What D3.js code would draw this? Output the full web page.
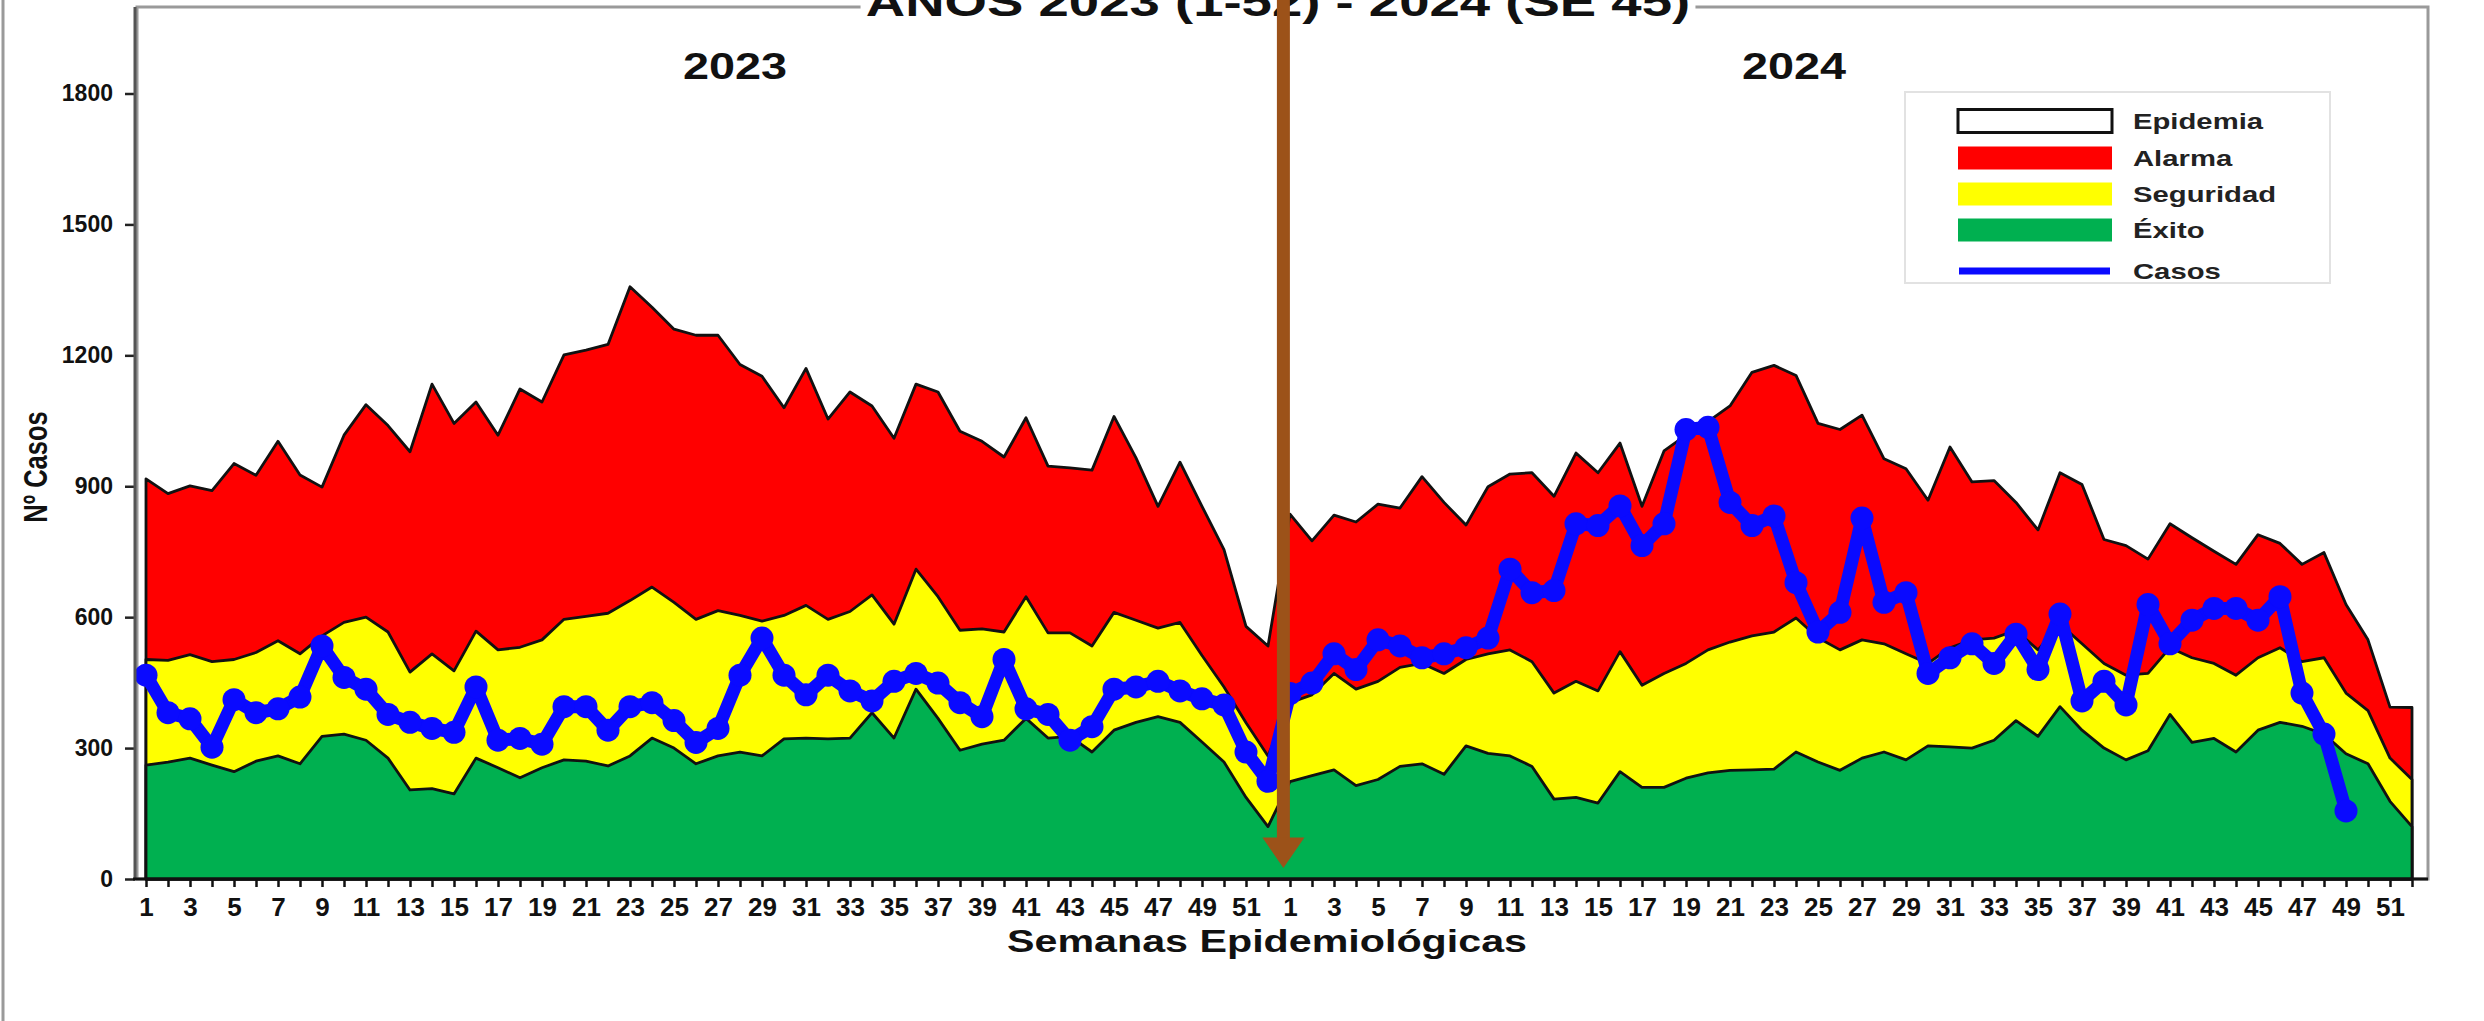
<!DOCTYPE html>
<html>
<head>
<meta charset="utf-8">
<script src="https://cdn.jsdelivr.net/npm/d3@7/dist/d3.min.js"></script>
<style>
  body { margin: 0; background: #fff; }
  text { font-family: "Liberation Sans", Arial, sans-serif; font-weight: bold; }
</style>
</head>
<body>
<div id="chart"></div>
<script>
var width = 2484;
var height = 1021;

// epidemiological weeks
var weeks2023 = d3.range(1, 53);
var weeks2024 = d3.range(1, 53);

// Alarma (upper limit of the red band)
var alarma2023 = [917, 883, 901, 890, 952, 925, 1003, 926, 898, 1017, 1087, 1039, 979, 1134, 1044, 1093, 1017, 1123, 1093, 1201,
  1212, 1225, 1357, 1310, 1260, 1246, 1246, 1179, 1152, 1080, 1170, 1054, 1116, 1084, 1010, 1134, 1116, 1026, 1003, 967,
  1057, 946, 942, 937, 1060, 965, 854, 955, 854, 755, 579, 534];
var alarma2024 = [836, 775, 834, 818, 859, 850, 922, 863, 811, 899, 928, 931, 877, 976, 931, 999, 854, 981, 1017, 1048,
  1084, 1161, 1177, 1154, 1044, 1030, 1063, 963, 940, 868, 990, 910, 913, 863, 800, 931, 904, 778, 764, 733,
  814, 782, 751, 721, 789, 769, 721, 748, 629, 548, 394, 393];

// Seguridad (upper limit of the yellow band)
var seguridad2023 = [503, 501, 514, 498, 503, 519, 546, 516, 557, 588, 600, 566, 474, 516, 477, 568, 525, 531, 548, 595,
  602, 609, 638, 669, 634, 595, 615, 604, 591, 604, 627, 595, 613, 651, 584, 710, 647, 570, 573, 566,
  647, 564, 564, 534, 611, 593, 575, 588, 512, 440, 358, 282];
var seguridad2024 = [404, 422, 471, 435, 453, 485, 494, 471, 503, 516, 525, 498, 426, 453, 431, 521, 444, 471, 494, 525,
  543, 557, 566, 598, 553, 525, 548, 539, 516, 494, 530, 548, 552, 570, 525, 584, 539, 494, 467, 471,
  530, 507, 494, 467, 507, 530, 498, 507, 426, 386, 277, 228];

// Exito (upper limit of the green band)
var exito2023 = [261, 268, 277, 261, 246, 270, 282, 264, 327, 332, 318, 277, 204, 207, 195, 277, 255, 232, 255, 273,
  270, 259, 282, 323, 300, 264, 282, 291, 282, 321, 323, 321, 323, 381, 323, 435, 368, 295, 309, 318,
  368, 323, 327, 291, 341, 359, 372, 359, 314, 268, 187, 120];
var exito2024 = [223, 237, 250, 214, 228, 258, 264, 240, 305, 288, 282, 258, 183, 187, 174, 246, 210, 210, 231, 243,
  249, 250, 252, 291, 268, 249, 277, 291, 273, 305, 303, 300, 318, 363, 327, 395, 341, 300, 273, 294,
  377, 313, 322, 291, 341, 359, 350, 332, 287, 264, 178, 120];

// Casos (2024 up to week 49)
var casos2023 = [467, 381, 367, 302, 411, 381, 390, 417, 534, 462, 435, 377, 359, 345, 336, 440, 318, 322, 309, 395,
  395, 341, 395, 404, 363, 313, 345, 467, 552, 467, 422, 467, 431, 408, 453, 471, 449, 404, 372, 503,
  390, 377, 318, 349, 435, 440, 453, 431, 413, 399, 291, 224];
var casos2024 = [425, 449, 516, 480, 548, 534, 507, 516, 530, 552, 710, 656, 661, 814, 810, 855, 764, 814, 1030, 1035,
  863, 810, 832, 679, 566, 611, 827, 634, 656, 471, 507, 539, 494, 561, 480, 607, 408, 453, 399, 629,
  539, 593, 620, 620, 593, 647, 426, 332, 156];

var yTicks = [0, 300, 600, 900, 1200, 1500, 1800];
var legendLabels = ["Epidemia", "Alarma", "Seguridad", "Éxito", "Casos"];

var colors = {
  alarma: "#ff0000",
  seguridad: "#ffff00",
  exito: "#00b050",
  casos: "#0a0aff",
  arrow: "#9c5219"
};

var weekLabels = weeks2023.concat(weeks2024);
var alarma = alarma2023.concat(alarma2024);
var seguridad = seguridad2023.concat(seguridad2024);
var exito = exito2023.concat(exito2024);
var casos = casos2023.concat(casos2024);

var svg = d3.select("#chart")
  .append("svg")
  .attr("width", width)
  .attr("height", height);

var plotLeft = 137, plotRight = 2428, plotTop = 7, plotBottom = 879;

var x = d3.scaleLinear()
  .domain([0, weekLabels.length - 1])
  .range([146, 2412]);

var y = d3.scaleLinear()
  .domain([0, 1800])
  .range([plotBottom, 93.5]);

// text looks horizontally stretched in the reference
var sx = 1.33;
function stretchText(parent, str, px, py, size, anchor, scale) {
  return parent.append("text")
    .attr("transform", "translate(" + px + "," + py + ") scale(" + scale + ",1)")
    .attr("text-anchor", anchor)
    .style("font-size", size + "px")
    .attr("fill", "#111")
    .text(str);
}

// outer slide border on the left
svg.append("line")
  .attr("x1", 3).attr("x2", 3)
  .attr("y1", 0).attr("y2", height)
  .attr("stroke", "#9a9a9a")
  .attr("stroke-width", 3);

// plot frame
svg.append("rect")
  .attr("x", plotLeft)
  .attr("y", plotTop)
  .attr("width", plotRight - plotLeft)
  .attr("height", plotBottom - plotTop)
  .attr("fill", "none")
  .attr("stroke", "#9a9a9a")
  .attr("stroke-width", 3);

// title (cut by the top edge as in the source), white box hides the frame line
var titleG = svg.append("g").attr("transform", "translate(1278,16) scale(" + sx + ",1)");
var titleText = titleG.append("text")
  .attr("text-anchor", "middle")
  .style("font-size", "41px")
  .attr("fill", "#111")
  .text("AÑOS 2023 (1-52) - 2024 (SE 45)");
var tb = titleText.node().getBBox();
titleG.insert("rect", "text")
  .attr("x", tb.x - 4)
  .attr("y", tb.y)
  .attr("width", tb.width + 8)
  .attr("height", tb.height)
  .attr("fill", "#fff");

// year labels
stretchText(svg, "2023", 735, 79, 36, "middle", 1.3);
stretchText(svg, "2024", 1794, 79, 36, "middle", 1.3);

// bands
function bandArea(values) {
  return d3.area()
    .x(function(d, i) { return x(i); })
    .y0(y(0))
    .y1(function(d) { return y(d); })(values);
}

[[alarma, colors.alarma], [seguridad, colors.seguridad], [exito, colors.exito]].forEach(function(b) {
  svg.append("path")
    .attr("d", bandArea(b[0]))
    .attr("fill", b[1])
    .attr("stroke", "#111")
    .attr("stroke-width", 2.8)
    .attr("stroke-linejoin", "round");
});

// cases line with markers
var casosLine = d3.line()
  .x(function(d, i) { return x(i); })
  .y(function(d) { return y(d); });

svg.append("path")
  .attr("d", casosLine(casos))
  .attr("fill", "none")
  .attr("stroke", colors.casos)
  .attr("stroke-width", 13)
  .attr("stroke-linejoin", "round");

svg.append("g")
  .selectAll("circle")
  .data(casos)
  .enter()
  .append("circle")
  .attr("cx", function(d, i) { return x(i); })
  .attr("cy", function(d) { return y(d); })
  .attr("r", 11.5)
  .attr("fill", colors.casos);

// y axis
var yAxis = d3.axisLeft(y)
  .tickValues(yTicks)
  .tickFormat(d3.format("d"))
  .tickSize(10)
  .tickPadding(12);

var gy = svg.append("g")
  .attr("transform", "translate(135,0)")
  .style("color", "#222")
  .call(yAxis);
gy.select(".domain").remove();
gy.selectAll(".tick line").attr("stroke-width", 2.5);
gy.selectAll("text")
  .style("font-size", "23px")
  .style("font-family", "'Liberation Sans', Arial, sans-serif")
  .attr("fill", "#111");

svg.append("line")
  .attr("x1", 135).attr("x2", 135)
  .attr("y1", plotTop).attr("y2", plotBottom)
  .attr("stroke", "#555")
  .attr("stroke-width", 3);

// x axis
var xAxis = d3.axisBottom(x)
  .tickValues(d3.range(0, weekLabels.length))
  .tickSize(8)
  .tickPadding(11)
  .tickFormat(function(i) {
    var w = weekLabels[i];
    return w % 2 === 1 ? w : "";
  });

var gx = svg.append("g")
  .attr("transform", "translate(0," + plotBottom + ")")
  .style("color", "#111")
  .call(xAxis);
gx.select(".domain").remove();
gx.selectAll(".tick line").attr("stroke-width", 2.5);
gx.selectAll("text")
  .style("font-size", "26px")
  .style("font-family", "'Liberation Sans', Arial, sans-serif")
  .attr("fill", "#111");

svg.append("line")
  .attr("x1", 133).attr("x2", plotRight)
  .attr("y1", plotBottom).attr("y2", plotBottom)
  .attr("stroke", "#111")
  .attr("stroke-width", 3);

// axis titles
stretchText(svg, "Semanas Epidemiológicas", 1267, 952, 31, "middle", sx);

svg.append("text")
  .attr("transform", "translate(47,467) rotate(-90) scale(1," + sx + ")")
  .attr("text-anchor", "middle")
  .style("font-size", "25.5px")
  .attr("fill", "#111")
  .text("Nº Casos");

// legend
var legend = svg.append("g").attr("class", "legend");
legend.append("rect")
  .attr("x", 1905).attr("y", 92)
  .attr("width", 425).attr("height", 191)
  .attr("fill", "#fff")
  .attr("stroke", "#e2e2e2")
  .attr("stroke-width", 2);

var legendFill = ["#fff", colors.alarma, colors.seguridad, colors.exito];
var legendY = [121, 158, 194, 230, 271];

legendLabels.forEach(function(label, i) {
  if (i < 4) {
    legend.append("rect")
      .attr("x", 1958).attr("y", legendY[i] - 11.5)
      .attr("width", 154).attr("height", 23)
      .attr("fill", legendFill[i])
      .attr("stroke", i === 0 ? "#111" : "none")
      .attr("stroke-width", 3);
  } else {
    legend.append("line")
      .attr("x1", 1959).attr("x2", 2110)
      .attr("y1", legendY[i]).attr("y2", legendY[i])
      .attr("stroke", colors.casos)
      .attr("stroke-width", 7);
  }
  stretchText(legend, label, 2133, legendY[i] + 8, 22, "start", sx).attr("fill", "#222");
});

// brown arrow marking the change of year
var xa = x(51.7);
svg.append("line")
  .attr("x1", xa).attr("x2", xa)
  .attr("y1", 0).attr("y2", y(90))
  .attr("stroke", colors.arrow)
  .attr("stroke-width", 13);

svg.append("path")
  .attr("d", "M" + (xa - 21) + "," + y(95) + "L" + (xa + 21) + "," + y(95) + "L" + xa + "," + y(25) + "Z")
  .attr("fill", colors.arrow);
</script>
</body>
</html>
